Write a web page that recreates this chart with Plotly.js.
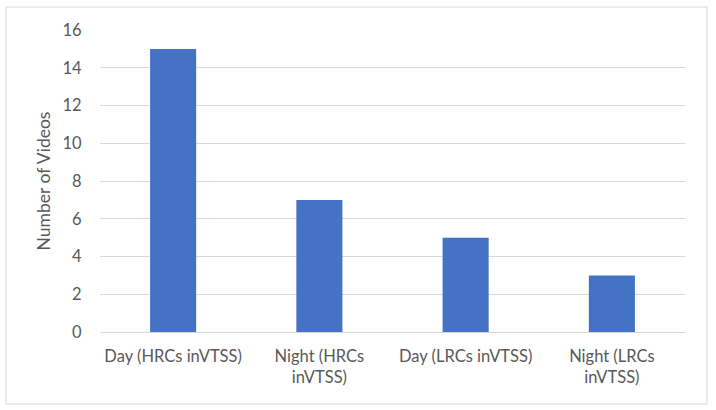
<!DOCTYPE html>
<html>
<head>
<meta charset="utf-8">
<script src="https://cdn.plot.ly/plotly-3.0.1.min.js"></script>
<style>html,body{margin:0;padding:0;background:#fff;}</style>
</head>
<body>
<div id="chart" style="width:716px;height:410px;"></div>
<script>
const categories = ["Day (HRCs inVTSS)", "Night (HRCs<br>inVTSS)", "Day (LRCs inVTSS)", "Night (LRCs<br>inVTSS)"];
const videoCounts = [15, 7, 5, 3];
const yTickValues = [0, 2, 4, 6, 8, 10, 12, 14, 16];

const trace = {
  type: 'bar',
  x: categories,
  y: videoCounts,
  marker: {color: '#4472C4'},
  hoverinfo: 'x+y'
};

const layout = {
  width: 716,
  height: 410,
  margin: {l: 100, r: 31, t: 30, b: 78},
  paper_bgcolor: '#fff',
  plot_bgcolor: '#fff',
  bargap: 0.685,
  showlegend: false,
  font: {family: 'Lato, "Open Sans", sans-serif', color: '#595959', size: 16.5},
  xaxis: {
    type: 'category',
    showgrid: false,
    showline: true,
    linecolor: '#D9D9D9',
    linewidth: 1,
    ticks: 'outside',
    ticklen: 9,
    tickcolor: 'rgba(0,0,0,0)',
    tickfont: {size: 16.5, color: '#595959'},
    zeroline: false
  },
  yaxis: {
    range: [0, 16],
    tickvals: yTickValues,
    showgrid: true,
    gridcolor: '#D9D9D9',
    gridwidth: 1,
    zeroline: false,
    showline: false,
    ticks: 'outside',
    ticklen: 14,
    tickcolor: 'rgba(0,0,0,0)',
    tickfont: {size: 16.5, color: '#595959'},
    title: {text: 'Number of Videos', font: {size: 17.5, color: '#595959'}, standoff: 7}
  },
  shapes: [{
    type: 'rect', xref: 'paper', yref: 'paper',
    x0: -0.1607, x1: 1.0376, y0: -0.2384, y1: 1.076,
    line: {color: '#D9D9D9', width: 1}, fillcolor: 'rgba(0,0,0,0)', layer: 'below'
  }]
};

Plotly.newPlot('chart', [trace], layout, {displayModeBar: false, staticPlot: true});
</script>
</body>
</html>
